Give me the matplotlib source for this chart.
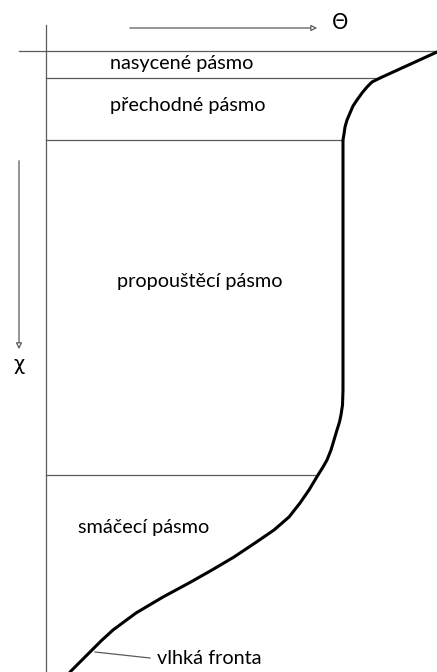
import matplotlib
matplotlib.use("Agg")
import matplotlib.pyplot as plt

plt.rcParams['font.family'] = ['Lato', 'DejaVu Sans']

# Moisture profile: water content (theta) against depth
theta = [437, 380, 372, 367, 362, 357, 353, 350, 347, 345, 344, 343, 343,
         343, 343, 342.5, 341, 339.5, 337, 334, 331, 327, 323, 318,
         309, 300, 289, 274, 255, 234, 212, 189, 163, 136, 113, 101, 90,
         80, 70]
depth = [52, 78, 82, 87, 93, 100, 106, 113, 120, 127, 134, 140, 200,
         300, 390, 405, 415, 422, 430, 440, 450, 460, 467, 475,
         490, 503, 517, 530, 543, 557, 570, 583, 597, 613, 630, 641, 652,
         662, 672]

# Zone boundaries (depth) and the theta where each boundary meets the profile
boundary_depth = [78, 140, 475]
boundary_theta = [380, 343, 318]

zone_labels = ["nasycené pásmo", "přechodné pásmo", "propouštěcí pásmo",
               "smáčecí pásmo"]
zone_label_x = [110, 110, 117, 78]
zone_label_y = [63, 105, 282, 528]

surface_depth = 51
axis_theta = 46

fig = plt.figure(figsize=(4.37, 6.72), dpi=100)
ax = fig.add_axes([0, 0, 1, 1])
ax.set_xlim(0, 437)
ax.set_ylim(672, 0)
ax.axis("off")

grey = "#5a5a5a"

# Surface and depth axis
ax.plot([19, 437], [surface_depth, surface_depth], color=grey, lw=0.9)
ax.plot([axis_theta, axis_theta], [25, 672], color=grey, lw=0.9)

# Zone boundaries
for d, t in zip(boundary_depth, boundary_theta):
    ax.plot([axis_theta, t], [d, d], color=grey, lw=0.9)

# Profile
ax.plot(theta, depth, color="black", lw=2.2, solid_capstyle="round",
        solid_joinstyle="round")

# Direction arrows
ax.annotate("", xy=(320, 28), xytext=(127, 28),
            arrowprops=dict(arrowstyle="-|>", color=grey, lw=0.9,
                            fc="white", mutation_scale=9))
ax.annotate("", xy=(19, 352), xytext=(19, 158),
            arrowprops=dict(arrowstyle="-|>", color=grey, lw=0.9,
                            fc="white", mutation_scale=9))
ax.text(340, 23, "Θ", fontsize=15, ha="center", va="center",
        family=["DejaVu Sans"])
ax.text(19, 364, "χ", fontsize=14, ha="center", va="center",
        family=["DejaVu Sans"])

for lab, x, y in zip(zone_labels, zone_label_x, zone_label_y):
    ax.text(x, y, lab, fontsize=14.3, ha="left", va="center")

# Wetting front callout
ax.plot([95, 150], [652, 658], color=grey, lw=0.9)
ax.text(157, 658, "vlhká fronta", fontsize=14.3, ha="left", va="center")

fig.savefig("out.png", dpi=100)
